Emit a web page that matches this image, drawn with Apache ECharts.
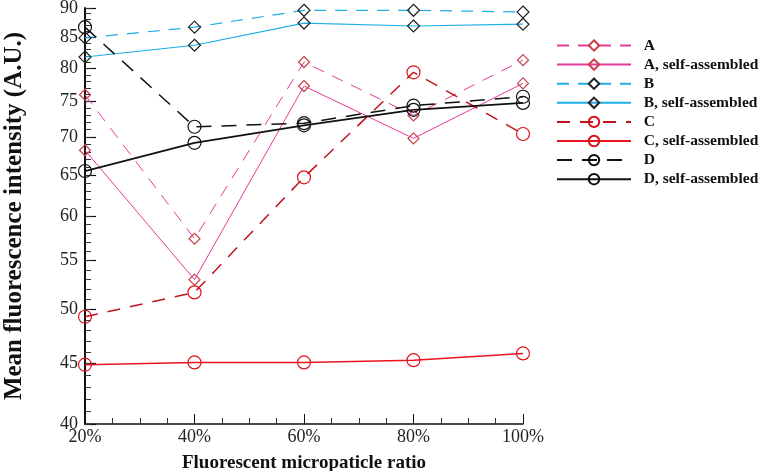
<!DOCTYPE html>
<html>
<head>
<meta charset="utf-8">
<script src="https://cdn.jsdelivr.net/npm/echarts@6/dist/echarts.min.js"></script>
<style>html,body{margin:0;padding:0;background:#fff}#c{width:763px;height:471px}</style>
</head>
<body>
<div id="c"></div>
<script>
var xValues = [20, 40, 60, 80, 100];
var yMajorTicks = [40, 45, 50, 55, 60, 65, 70, 75, 80, 85, 90];
var seriesNames = ['A', 'A, self-assembled', 'B', 'B, self-assembled', 'C', 'C, self-assembled', 'D', 'D, self-assembled'];
var A = [76.0, 57.4, 81.0, 73.0, 81.3];
var A_sa = [68.2, 53.0, 77.3, 69.8, 77.7];
var B = [84.9, 86.7, 89.6, 89.6, 89.3];
var B_sa = [81.8, 83.7, 87.4, 86.9, 87.2];
var C = [49.3, 51.7, 64.7, 79.4, 70.4];
var C_sa = [44.9, 45.1, 45.1, 45.3, 45.9];
var D = [86.7, 71.4, 71.9, 74.4, 75.7];
var D_sa = [65.5, 69.2, 71.6, 73.8, 74.8];

var allValues = [A, A_sa, B, B_sa, C, C_sa, D, D_sa];
var styles = [
  {line: '#e6399b', mark: '#c8404a', sym: 'diamond', size: 11, dash: [12, 9], w: 1},
  {line: '#e6399b', mark: '#c8404a', sym: 'diamond', size: 11, dash: 'solid', w: 1},
  {line: '#1eaee6', mark: '#222', sym: 'diamond', size: 12, dash: [12, 9], w: 1.2},
  {line: '#1eaee6', mark: '#222', sym: 'diamond', size: 12, dash: 'solid', w: 1.2},
  {line: '#c0141e', mark: '#e0101a', sym: 'circle', size: 13, dash: [13, 10], w: 1.5},
  {line: '#e8141e', mark: '#e0101a', sym: 'circle', size: 13, dash: 'solid', w: 1.5},
  {line: '#111', mark: '#111', sym: 'circle', size: 13, dash: [15, 10], w: 1.5},
  {line: '#111', mark: '#111', sym: 'circle', size: 13, dash: 'solid', w: 1.8}
];

var minorTicks = [];
for (var v = 40; v <= 90; v++) minorTicks.push(Math.log(v));

var series = seriesNames.map(function (name, i) {
  var s = styles[i];
  return {
    name: name,
    type: 'line',
    yAxisIndex: 0,
    data: xValues.map(function (x, j) { return [x, Math.log(allValues[i][j])]; }),
    symbol: s.sym,
    symbolSize: s.size,
    showAllSymbol: true,
    lineStyle: {color: s.line, width: s.w, type: s.dash},
    itemStyle: {color: 'rgba(255,255,255,0)', borderColor: s.mark, borderWidth: 1.2},
    emphasis: {disabled: true}
  };
});

var chart = echarts.init(document.getElementById('c'), null, {renderer: 'canvas'});
chart.setOption({
  animation: false,
  backgroundColor: '#fff',
  textStyle: {fontFamily: 'Liberation Serif'},
  grid: {left: 85, top: 8, right: 240, bottom: 47, containLabel: false, outerBoundsMode: 'none'},
  legend: {
    orient: 'vertical',
    left: 551,
    top: 32,
    itemWidth: 74,
    itemHeight: 13,
    itemGap: 2.1,
    data: seriesNames,
    formatter: function (n) { return '  ' + n; },
    textStyle: {fontFamily: 'Liberation Serif', fontWeight: 'bold', fontSize: 15.5, lineHeight: 17, color: '#111'}
  },
  xAxis: {
    type: 'value',
    min: 20, max: 100, interval: 20,
    name: 'Fluorescent micropaticle ratio',
    nameLocation: 'middle',
    nameGap: 30,
    nameTextStyle: {fontFamily: 'Liberation Serif', fontWeight: 'bold', fontSize: 19, color: '#111'},
    axisLine: {show: true, onZero: false, lineStyle: {color: '#111', width: 1.5}},
    axisTick: {show: true, inside: true, length: 10, lineStyle: {color: '#111', width: 1}},
    minorTick: {show: true, splitNumber: 4, length: 6, lineStyle: {color: '#333', width: 1}},
    splitLine: {show: false},
    axisLabel: {formatter: '{value}%', fontFamily: 'Liberation Serif', fontSize: 18, color: '#222', margin: 4}
  },
  yAxis: [{
    type: 'value',
    min: Math.log(40), max: Math.log(90),
    name: 'Mean fluorescence intensity (A.U.)',
    nameLocation: 'middle',
    nameGap: 58,
    nameRotate: 90,
    nameTextStyle: {fontFamily: 'Liberation Serif', fontWeight: 'bold', fontSize: 25, color: '#111'},
    axisLine: {show: true, onZero: false, lineStyle: {color: '#111', width: 2}},
    axisTick: {show: true, inside: true, length: 11, customValues: yMajorTicks.map(Math.log), lineStyle: {color: '#111', width: 1.2}},
    splitLine: {show: false},
    axisLabel: {
      customValues: yMajorTicks.map(Math.log),
      formatter: function (val) { return String(Math.round(Math.exp(val))); },
      fontFamily: 'Liberation Serif', fontSize: 18, color: '#222', margin: 7
    }
  }, {
    type: 'value',
    position: 'left',
    min: Math.log(40), max: Math.log(90),
    axisLine: {show: false},
    axisTick: {show: true, inside: true, length: 6, customValues: minorTicks, lineStyle: {color: '#333', width: 1}},
    axisLabel: {show: false},
    splitLine: {show: false}
  }],
  series: series
});
</script>
</body>
</html>
